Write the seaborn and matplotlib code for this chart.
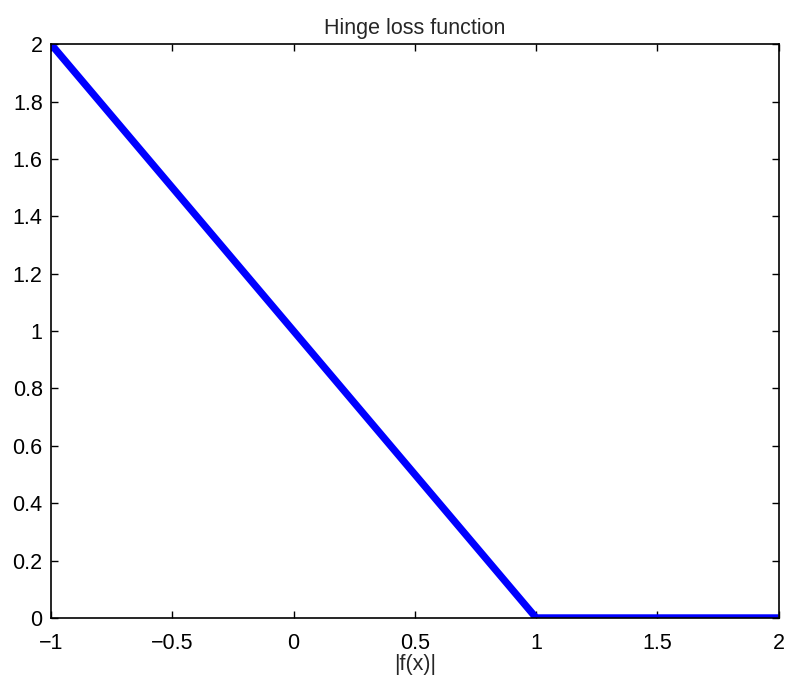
import matplotlib
matplotlib.use("Agg")
import matplotlib.pyplot as plt
import seaborn as sns
import pandas as pd

# Hinge loss: max(0, 1 - z), sampled at its breakpoints
margin = [-1.0, 1.0, 2.0]
loss = [2.0, 0.0, 0.0]
x_ticks = [-1, -0.5, 0, 0.5, 1, 1.5, 2]
y_ticks = [0, 0.2, 0.4, 0.6, 0.8, 1, 1.2, 1.4, 1.6, 1.8, 2]
x_tick_labels = ["\u22121", "\u22120.5", "0", "0.5", "1", "1.5", "2"]
y_tick_labels = ["0", "0.2", "0.4", "0.6", "0.8", "1", "1.2", "1.4", "1.6", "1.8", "2"]

sns.set_theme(style="white")
plt.rcParams["font.family"] = ["Liberation Sans", "DejaVu Sans"]

df = pd.DataFrame({"margin": margin, "loss": loss})

fig = plt.figure(figsize=(7.85, 6.79), dpi=100)
ax = fig.add_axes([0.065, 0.09, 0.927, 0.845])
sns.lineplot(data=df, x="margin", y="loss", ax=ax, color="#0000ff",
             linewidth=5.2, solid_capstyle="butt", sort=False)

ax.set_xlim(-1, 2)
ax.set_ylim(0, 2)
ax.set_xticks(x_ticks)
ax.set_yticks(y_ticks)
ax.set_xticklabels(x_tick_labels)
ax.set_yticklabels(y_tick_labels)
ax.tick_params(direction="in", length=5, width=1, colors="black",
               labelsize=15.5, top=True, right=True, bottom=True, left=True)
ax.tick_params(axis="x", pad=11)
ax.tick_params(axis="y", pad=6)
for s in ax.spines.values():
    s.set_color("black")
    s.set_linewidth(1.2)
ax.set_xlabel("|f(x)|", fontsize=15.5, labelpad=0)
ax.set_ylabel("")
ax.set_title("Hinge loss function", fontsize=15.5, pad=7)

fig.savefig("out.png", dpi=100)
